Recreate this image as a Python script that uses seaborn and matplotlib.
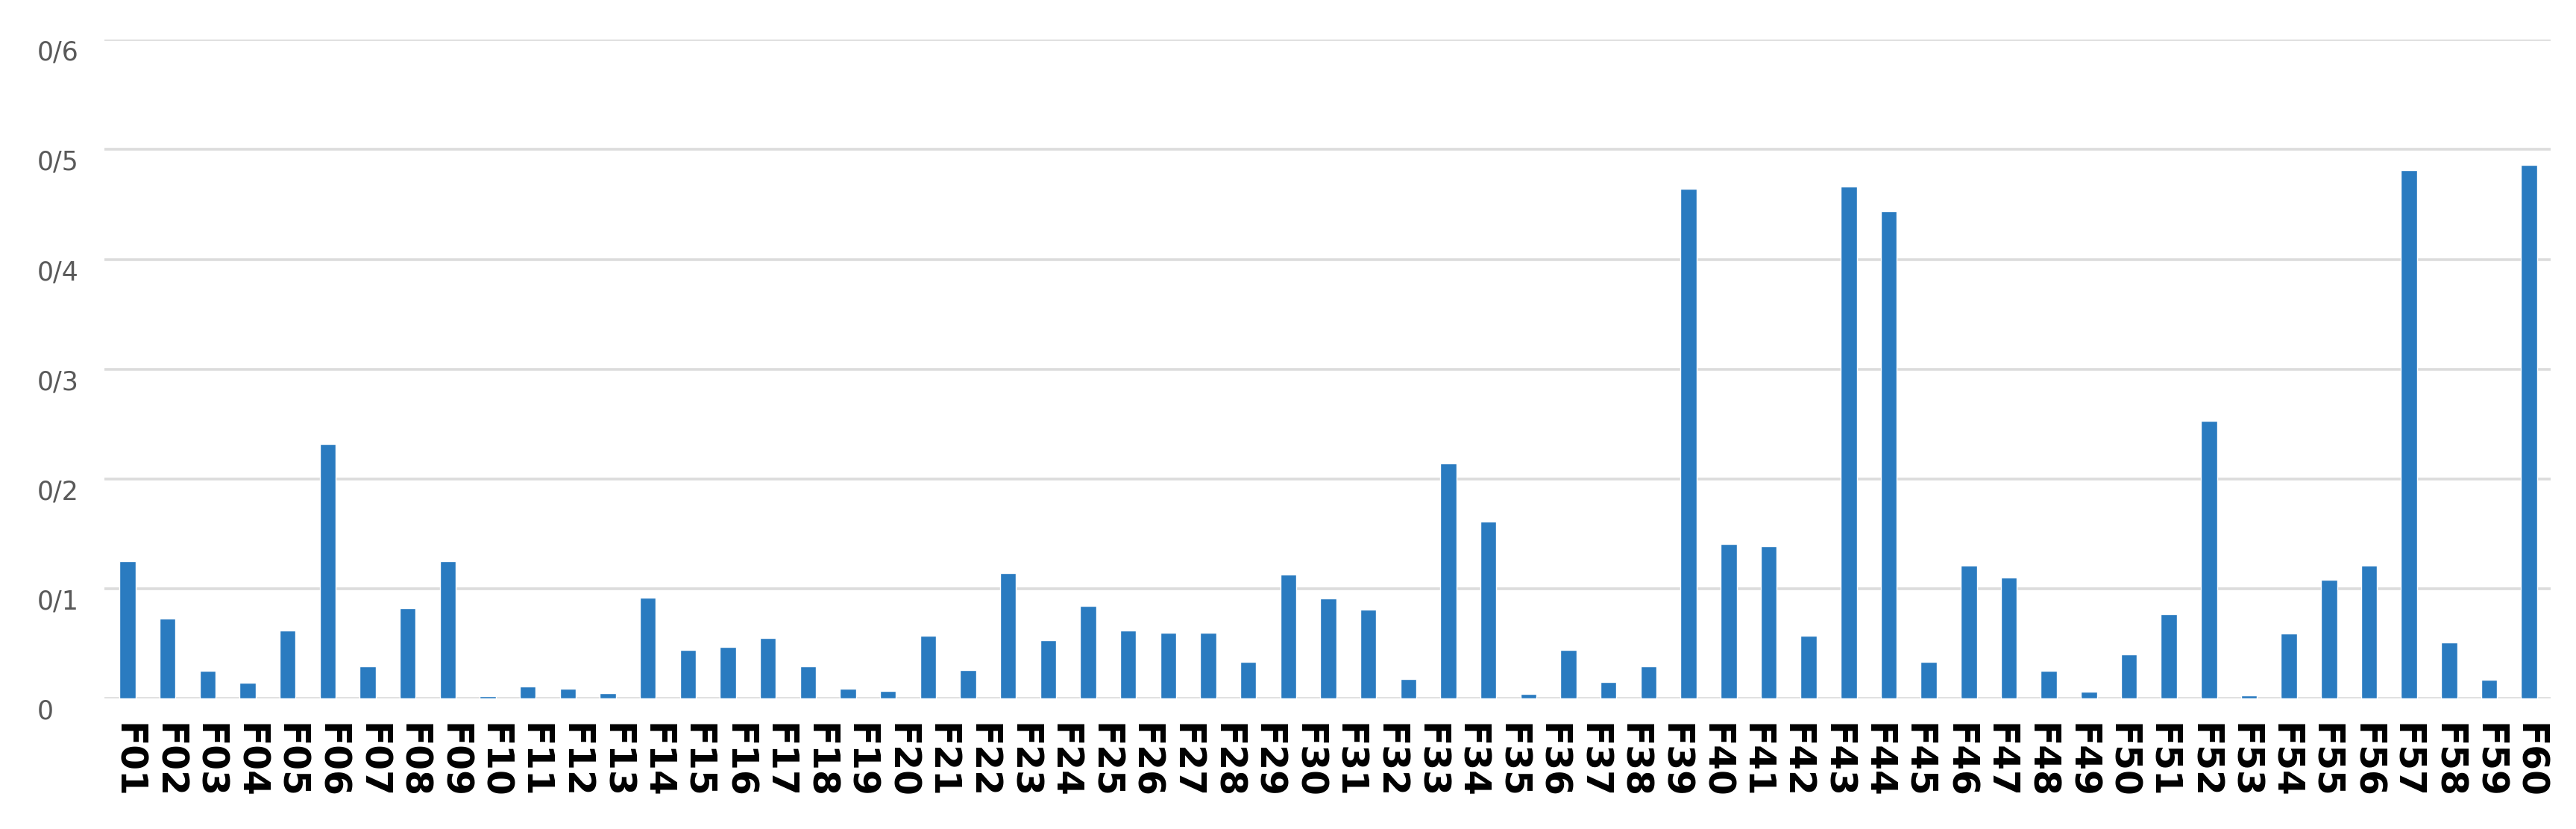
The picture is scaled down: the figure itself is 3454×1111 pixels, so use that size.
import numpy as np
import pandas as pd
import matplotlib
matplotlib.use("Agg")
import matplotlib.pyplot as plt
import matplotlib.transforms as mtransforms
import seaborn as sns

# 61 bars are drawn in the picture, while only 60 labels sit under them
bar_values = [0.125, 0.073, 0.025, 0.014, 0.062, 0.232, 0.029, 0.082, 0.125, 0.002,
              0.011, 0.009, 0.005, 0.092, 0.044, 0.047, 0.055, 0.029, 0.009, 0.007,
              0.057, 0.026, 0.114, 0.053, 0.084, 0.062, 0.060, 0.060, 0.033, 0.113,
              0.091, 0.081, 0.018, 0.214, 0.161, 0.004, 0.044, 0.015, 0.029, 0.464,
              0.141, 0.139, 0.057, 0.466, 0.444, 0.033, 0.121, 0.110, 0.025, 0.006,
              0.040, 0.077, 0.253, 0.003, 0.059, 0.108, 0.121, 0.481, 0.051, 0.017,
              0.486]
tick_labels = ["F%02d" % i for i in range(1, 61)]
y_ticks = [0, 0.1, 0.2, 0.3, 0.4, 0.5, 0.6]
y_tick_labels = ["0", "0/1", "0/2", "0/3", "0/4", "0/5", "0/6"]

df = pd.DataFrame({"pos": np.arange(len(bar_values)), "value": bar_values})

sns.set_style("white")
plt.rcParams["font.family"] = ["DejaVu Sans"]

fig = plt.figure(figsize=(34.55, 11.11), dpi=100)
ax = fig.add_axes([0.0405, 0.1575, 0.9494, 0.7945])

ax.set_axisbelow(True)
ax.yaxis.grid(True, color="#dcdcdc", linewidth=2.6)
ax.xaxis.grid(False)

sns.barplot(data=df, x="pos", y="value", native_scale=True, width=0.4,
            color="#2a7bc0", saturation=1, ax=ax)

ax.set_xlim(-0.58, len(bar_values) - 0.46)
ax.set_ylim(0, 0.6)
ax.set_yticks(y_ticks, y_tick_labels)
ax.set_xticks(np.linspace(0, len(bar_values) - 1, len(tick_labels)), tick_labels)
ax.set_xlabel("")
ax.set_ylabel("")

for s in ax.spines.values():
    s.set_visible(False)
ax.tick_params(axis="both", length=0)
ax.tick_params(axis="y", pad=65, labelsize=25, labelcolor="#595959")
ax.tick_params(axis="x", pad=24)

shift = mtransforms.ScaledTranslation(0, -14 / 100, fig.dpi_scale_trans)
for lab in ax.get_yticklabels():
    lab.set_horizontalalignment("left")
    lab.set_transform(lab.get_transform() + shift)
for lab in ax.get_xticklabels():
    lab.set_rotation(-90)
    lab.set_fontsize(35)
    lab.set_fontweight("bold")
    lab.set_color("black")
    lab.set_verticalalignment("top")
    lab.set_horizontalalignment("center")

fig.savefig("out.png", dpi=100, facecolor="white")
